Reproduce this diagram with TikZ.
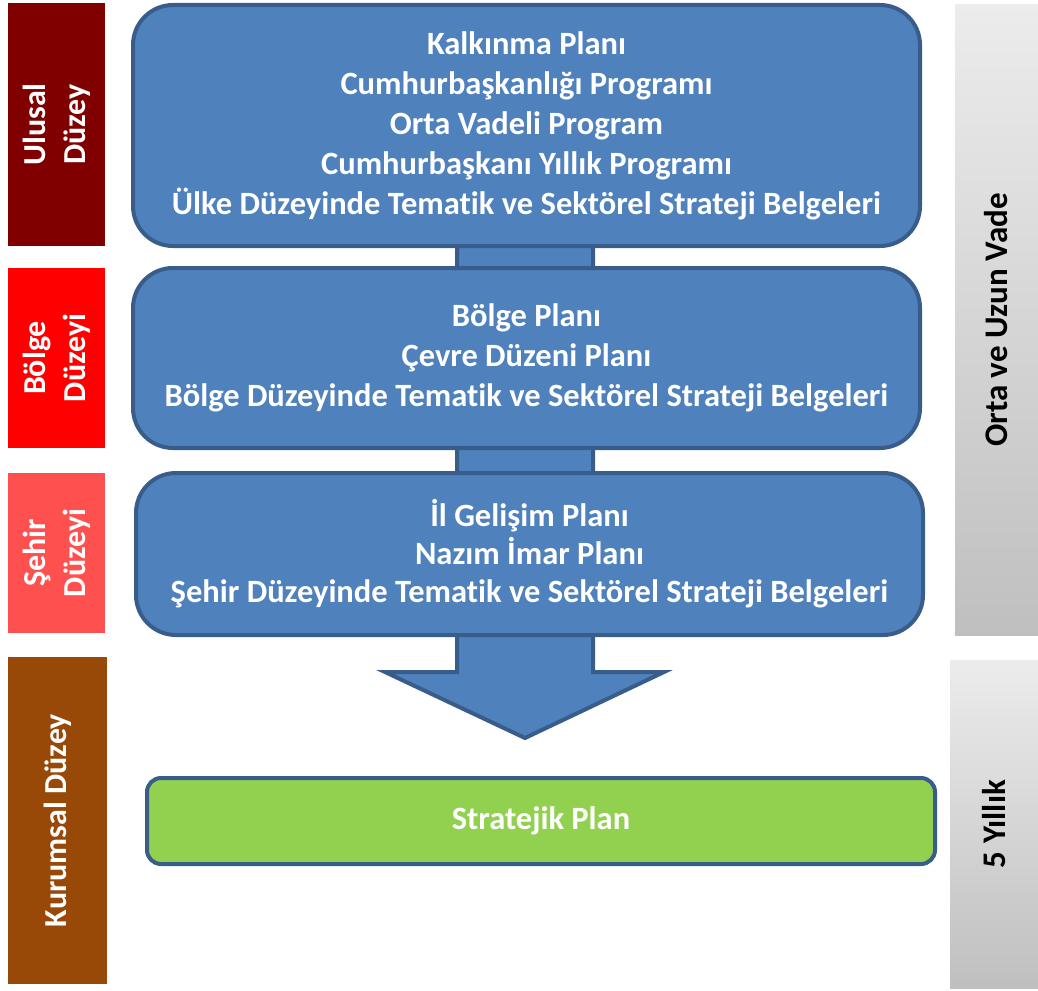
\documentclass[tikz,border=0pt]{standalone}
\usepackage{fontspec}
\setmainfont{Carlito}[Ligatures=NoCommon]
\usepackage{tikz}
\usetikzlibrary{positioning,calc,shadings}

\definecolor{planblue}{HTML}{4F81BD}
\definecolor{planedge}{HTML}{385D8A}
\definecolor{plangreen}{HTML}{92D050}
\definecolor{ulusalred}{HTML}{800000}
\definecolor{bolgered}{HTML}{FF0000}
\definecolor{sehirred}{HTML}{FF5050}
\definecolor{kurumbrown}{HTML}{984807}

\tikzset{
  plan/.style={draw=planedge, line width=4pt, fill=planblue, rounded corners=40pt,
    text=white, align=center, font=\fontsize{32.5}{40}\selectfont\bfseries},
  level/.style={rotate=90, fill=#1, text=white, align=center,
    font=\fontsize{32}{40}\selectfont\bfseries, inner sep=0pt},
  term/.style={rotate=90, top color=gray!15, bottom color=gray!50, text=black,
    font=\fontsize{33}{40}\selectfont\bfseries, inner sep=0pt}
}

\begin{document}
\begin{tikzpicture}[x=1pt,y=-1pt]
    \useasboundingbox (0,0) rectangle (1038,990);
    % big arrow behind the plan boxes
    \coordinate (tip) at (525,738);
    \draw[draw=planedge, line width=4pt, fill=planblue, line join=miter]
      (457,125) -- (457,672) -- (385,672) -- (tip) -- (664,672) -- (593,672) -- (593,125) -- cycle;
    % plan boxes
    \node[plan, minimum width=787, minimum height=241] (ulusal) at (526.5,125.5)
      {Kalkınma Planı\\Cumhurbaşkanlığı Programı\\Orta Vadeli Program\\Cumhurbaşkanı Yıllık Programı\\Ülke Düzeyinde Tematik ve Sektörel Strateji Belgeleri};
    \node[plan, minimum width=787, minimum height=180] (bolge) at (526.5,358)
      {Bölge Planı\\Çevre Düzeni Planı\\Bölge Düzeyinde Tematik ve Sektörel Strateji Belgeleri};
    \node[plan, minimum width=787, minimum height=162,
      font=\fontsize{32.5}{38}\selectfont\bfseries] (sehir) at (529.5,554)
      {İl Gelişim Planı\\Nazım İmar Planı\\Şehir Düzeyinde Tematik ve Sektörel Strateji Belgeleri};
    \node[plan, fill=plangreen, rounded corners=14pt, minimum width=788, minimum height=86] (stratejik) at (541,821)
      {Stratejik Plan};
    % level labels
    \node[level=ulusalred, minimum width=243, minimum height=97] (lulusal) at (56.5,124.5) {Ulusal\\Düzey};
    \node[level=bolgered, minimum width=180, minimum height=97] (lbolge) at (56.5,358) {Bölge\\Düzeyi};
    \node[level=sehirred, minimum width=160, minimum height=97] (lsehir) at (56.5,553) {Şehir\\Düzeyi};
    \node[level=kurumbrown, minimum width=327, minimum height=99] (lkurum) at (57.5,820.5) {Kurumsal Düzey};
    % term labels
    \node[term, minimum width=630, minimum height=83] (orta) at (996.5,320) {Orta ve Uzun Vade};
    \node[term, minimum width=328, minimum height=88] (bes) at (994,824) {5 Yıllık};
\end{tikzpicture}
\end{document}
